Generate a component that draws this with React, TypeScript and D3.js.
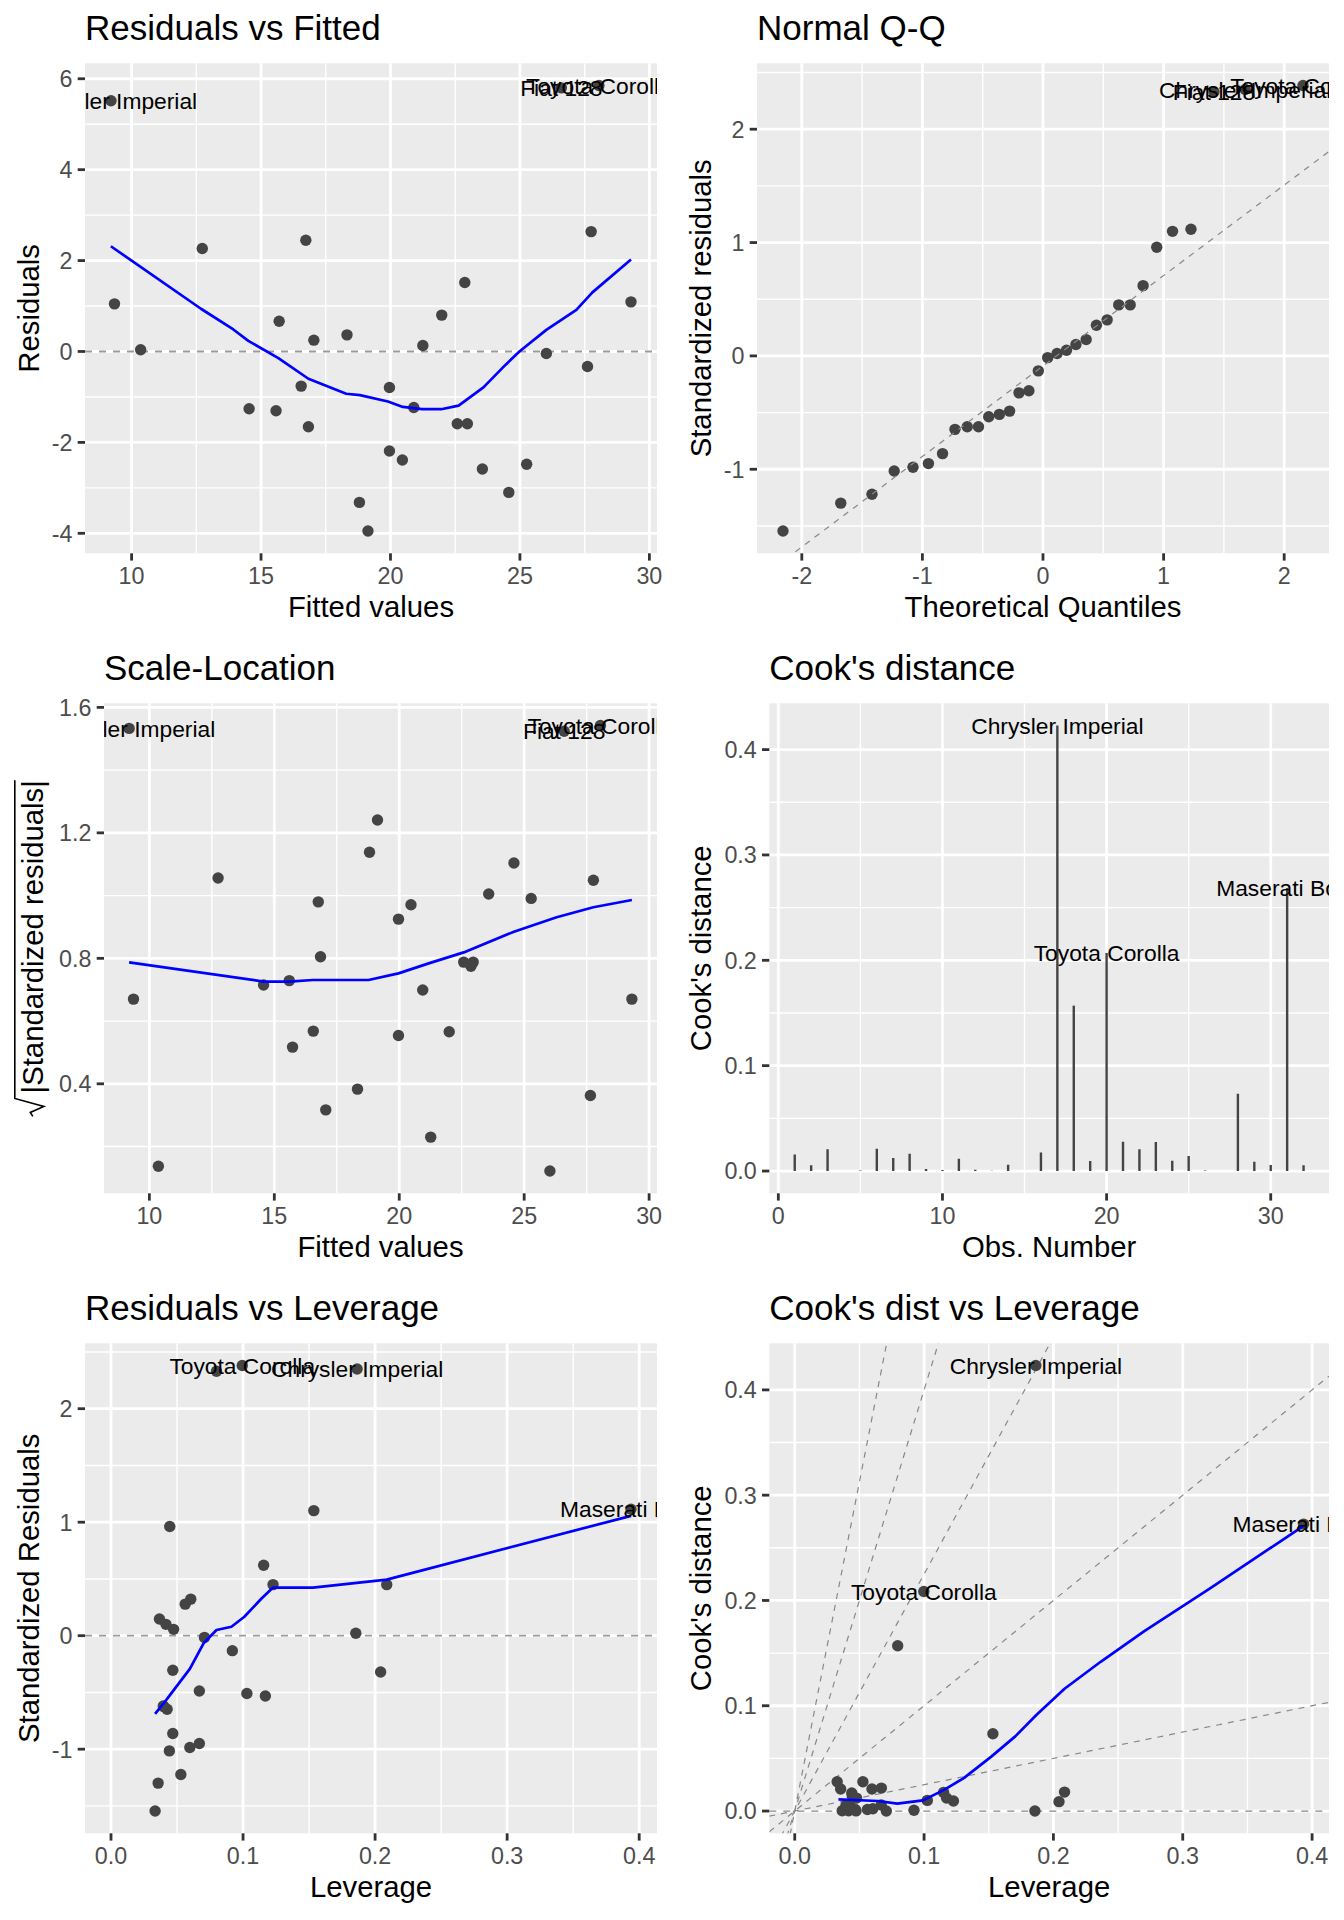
import React from "react";
import * as d3 from "d3";

const FONT = "'Liberation Sans', Arial, Helvetica, sans-serif";

// ---------------- Residuals vs Fitted ----------------
const rvfFitted = [9.205, 9.34, 12.73, 16.73, 15.7, 21.98, 22.87, 27.75, 29.29, 26.6, 28.05, 10.35, 17.04, 18.32, 21.25, 26.02, 27.61, 16.55, 19.96, 14.54, 15.58, 16.83, 20.9, 22.58, 22.97, 19.96, 20.46, 23.55, 25.26, 24.57, 18.8, 19.13];
const rvfResid = [5.516, 1.048, 2.264, 2.447, 0.665, 0.8, 1.516, 2.637, 1.092, 5.8, 5.85, 0.037, 0.249, 0.366, 0.132, -0.044, -0.33, -0.762, -0.791, -1.26, -1.304, -1.656, -1.231, -1.59, -1.59, -2.19, -2.388, -2.586, -2.48, -3.1, -3.32, -3.95];
const rvfLabelIdx = [0, 9, 10];
const rvfLabelNames = ["Chrysler Imperial", "Fiat 128", "Toyota Corolla"];
const rvfSmoothX = [9.2, 12.68, 13.93, 14.51, 15.67, 16.83, 18.29, 18.82, 19.9, 20.48, 21.22, 21.96, 22.63, 23.59, 24.45, 24.98, 26.02, 27.18, 27.8, 29.29];
const rvfSmoothY = [2.315, 0.94, 0.484, 0.234, -0.147, -0.6, -0.93, -0.96, -1.1, -1.22, -1.27, -1.27, -1.19, -0.79, -0.29, 0, 0.476, 0.916, 1.3, 2.022];
const fittedTicks = [10, 15, 20, 25, 30];
const fittedTickLabels = ["10", "15", "20", "25", "30"];
const fittedMinor = [7.5, 12.5, 17.5, 22.5, 27.5, 32.5];
const residTicks = [-4, -2, 0, 2, 4, 6];
const residTickLabels = ["-4", "-2", "0", "2", "4", "6"];
const residMinor = [-5, -3, -1, 1, 3, 5, 7];

// ---------------- Normal Q-Q ----------------
const qqTheo = [-2.156, -1.677, -1.418, -1.234, -1.078, -0.95, -0.833, -0.73, -0.628, -0.535, -0.45, -0.362, -0.277, -0.199, -0.117, -0.039, 0.039, 0.117, 0.195, 0.273, 0.358, 0.443, 0.532, 0.628, 0.723, 0.83, 0.943, 1.074, 1.227, 1.418, 1.677, 2.156];
const qqStd = [-1.545, -1.299, -1.22, -1.015, -0.982, -0.95, -0.862, -0.648, -0.625, -0.625, -0.537, -0.516, -0.487, -0.326, -0.308, -0.132, -0.015, 0.021, 0.05, 0.1, 0.144, 0.27, 0.318, 0.45, 0.45, 0.62, 0.959, 1.099, 1.117, 2.33, 2.35, 2.385];
const qqLabelIdx = [29, 30, 31];
const qqLabelNames = ["Fiat 128", "Chrysler Imperial", "Toyota Corolla"];
const qqLineSlope = 0.798;
const qqLineIntercept = -0.089;
const qqXTicks = [-2, -1, 0, 1, 2];
const qqXTickLabels = ["-2", "-1", "0", "1", "2"];
const qqXMinor = [-2.5, -1.5, -0.5, 0.5, 1.5, 2.5];
const stdTicks = [-1, 0, 1, 2];
const stdTickLabels = ["-1", "0", "1", "2"];
const stdMinor = [-1.5, -0.5, 0.5, 1.5, 2.5];

// ---------------- Scale-Location ----------------
const slFitted = [9.19, 12.75, 16.76, 19.13, 18.81, 20.47, 19.97, 24.59, 23.58, 25.28, 27.77, 16.85, 22.58, 22.96, 22.87, 26.6, 28.05, 9.365, 14.57, 15.6, 20.94, 29.31, 16.56, 15.73, 19.97, 22.0, 18.33, 17.06, 27.65, 21.26, 10.36, 26.03];
const slValue = [1.533, 1.056, 0.98, 1.241, 1.138, 0.971, 0.925, 1.104, 1.005, 0.991, 1.049, 0.805, 0.788, 0.788, 0.775, 1.524, 1.542, 0.67, 0.715, 0.729, 0.699, 0.67, 0.568, 0.517, 0.554, 0.566, 0.383, 0.317, 0.363, 0.23, 0.137, 0.122];
const slLabelIdx = [0, 15, 16];
const slLabelNames = ["Chrysler Imperial", "Fiat 128", "Toyota Corolla"];
const slSmoothX = [9.19, 14.57, 15.6, 16.54, 18.77, 19.97, 21.18, 22.58, 24.59, 26.3, 27.77, 29.31];
const slSmoothY = [0.787, 0.726, 0.726, 0.731, 0.731, 0.752, 0.784, 0.819, 0.885, 0.931, 0.963, 0.986];
const slTicks = [0.4, 0.8, 1.2, 1.6];
const slTickLabels = ["0.4", "0.8", "1.2", "1.6"];
const slMinor = [0.2, 0.6, 1.0, 1.4];

// ---------------- Cook's distance ----------------
const cookObs = [1, 2, 3, 4, 5, 6, 7, 8, 9, 10, 11, 12, 13, 14, 15, 16, 17, 18, 19, 20, 21, 22, 23, 24, 25, 26, 27, 28, 29, 30, 31, 32];
const cookD = [0.0158, 0.0054, 0.0206, 0.0001, 0.0005, 0.0212, 0.0123, 0.0165, 0.0019, 0.0009, 0.0117, 0.0013, 0.0003, 0.006, 0.0001, 0.0177, 0.4228, 0.157, 0.0095, 0.207, 0.0278, 0.0206, 0.0275, 0.0098, 0.0142, 0.0006, 0.0001, 0.0734, 0.0089, 0.0057, 0.2687, 0.0054];
const cookLabelIdx = [16, 19, 30];
const cookLabelNames = ["Chrysler Imperial", "Toyota Corolla", "Maserati Bora"];
const obsTicks = [0, 10, 20, 30];
const obsTickLabels = ["0", "10", "20", "30"];
const obsMinor = [5, 15, 25];
const cookTicks = [0, 0.1, 0.2, 0.3, 0.4];
const cookTickLabels = ["0.0", "0.1", "0.2", "0.3", "0.4"];
const cookMinor = [0.05, 0.15, 0.25, 0.35];

// ---------------- Residuals vs Leverage ----------------
const rvlLev = [0.0799, 0.0994, 0.1864, 0.3938, 0.0445, 0.1536, 0.1156, 0.1227, 0.2088, 0.0604, 0.0562, 0.0367, 0.0416, 0.0474, 0.0708, 0.1854, 0.0919, 0.2042, 0.0468, 0.0669, 0.1029, 0.1169, 0.0396, 0.0425, 0.04, 0.0468, 0.0442, 0.0597, 0.0669, 0.0529, 0.0357, 0.0334];
const rvlStd = [2.33, 2.38, 2.35, 1.114, 0.962, 1.102, 0.62, 0.45, 0.45, 0.322, 0.278, 0.147, 0.1, 0.056, -0.015, 0.021, -0.132, -0.32, -0.305, -0.487, -0.51, -0.531, -0.619, -0.648, -0.625, -0.862, -1.015, -0.985, -0.95, -1.223, -1.299, -1.545];
const rvlLabelIdx = [1, 2, 3];
const rvlLabelNames = ["Toyota Corolla", "Chrysler Imperial", "Maserati Bora"];
const rvlSmoothX = [0.0334, 0.0419, 0.0597, 0.0701, 0.0799, 0.0912, 0.101, 0.114, 0.1227, 0.153, 0.2088, 0.3938];
const rvlSmoothY = [-0.689, -0.566, -0.293, -0.067, 0.05, 0.079, 0.167, 0.328, 0.424, 0.424, 0.494, 1.056];
const levTicks = [0, 0.1, 0.2, 0.3, 0.4];
const levTickLabels = ["0.0", "0.1", "0.2", "0.3", "0.4"];
const levMinor = [0.05, 0.15, 0.25, 0.35];

// ---------------- Cook's dist vs Leverage ----------------
const cvlLev = [0.1864, 0.0998, 0.3934, 0.0796, 0.1532, 0.0328, 0.0355, 0.0527, 0.0441, 0.0478, 0.0597, 0.067, 0.1151, 0.1174, 0.1227, 0.1025, 0.2086, 0.2043, 0.1857, 0.0922, 0.0445, 0.0604, 0.0562, 0.0367, 0.0416, 0.0474, 0.0708, 0.0468, 0.0669, 0.0396, 0.0425, 0.04];
const cvlCook = [0.4231, 0.2085, 0.2725, 0.157, 0.0734, 0.0278, 0.0209, 0.0278, 0.0171, 0.0123, 0.0209, 0.0218, 0.0177, 0.0123, 0.0095, 0.0101, 0.018, 0.0089, 0.0, 0.0008, 0.0143, 0.0022, 0.0015, 0.0003, 0.0002, 0.0001, 0.0, 0.0015, 0.0057, 0.0053, 0.0062, 0.0054];
const cvlLabelIdx = [0, 1, 2];
const cvlLabelNames = ["Chrysler Imperial", "Toyota Corolla", "Maserati Bora"];
const cvlSmoothX = [0.0338, 0.0643, 0.0793, 0.0992, 0.1158, 0.1307, 0.1522, 0.1705, 0.187, 0.2086, 0.2368, 0.27, 0.3214, 0.3934];
const cvlSmoothY = [0.0111, 0.0095, 0.007, 0.0101, 0.0203, 0.0313, 0.0519, 0.0709, 0.0915, 0.1161, 0.142, 0.1706, 0.2117, 0.2709];
const cvlContourSlopes = [0.25, 1, 2.25, 4, 6.25];

// ---------------- helpers ----------------
type Sc = d3.ScaleLinear<number, number>;

function expand(ext: [number, number], m = 0.05): [number, number] {
  const d = (ext[1] - ext[0]) * m;
  return [ext[0] - d, ext[1] + d];
}
function ext(a: number[]): [number, number] {
  return d3.extent(a) as [number, number];
}

const PT_R = 5.7;
const PT_FILL = "#444444";
const LABEL_FS = 22.8;
const AD_COLOUR = "#888888";

function Points({ xs, ys, x, y }: { xs: number[]; ys: number[]; x: Sc; y: Sc }) {
  return (
    <g>
      {xs.map((v, i) => (
        <circle key={i} cx={x(v)} cy={y(ys[i])} r={PT_R} fill={PT_FILL} />
      ))}
    </g>
  );
}

function Labels({ xs, ys, idx, names, x, y }: { xs: number[]; ys: number[]; idx: number[]; names: string[]; x: Sc; y: Sc }) {
  return (
    <g>
      {idx.map((k, i) => (
        <text key={i} x={x(xs[k])} y={y(ys[k])} dy="0.36em" textAnchor="middle" fontSize={LABEL_FS} fill="#000">
          {names[i]}
        </text>
      ))}
    </g>
  );
}

function Smooth({ xs, ys, x, y }: { xs: number[]; ys: number[]; x: Sc; y: Sc }) {
  const line = d3
    .line<number>()
    .x((v) => x(v))
    .y((_, i) => y(ys[i]));
  return <path d={line(xs) || ""} fill="none" stroke="#0000FF" strokeWidth={2.7} strokeLinejoin="round" />;
}

function HLine({ v, x, y, width = 1.8, colour = "#9A9A9A" }: { v: number; x: Sc; y: Sc; width?: number; colour?: string }) {
  const [a, b] = x.range();
  return <line x1={a} x2={b} y1={y(v)} y2={y(v)} stroke={colour} strokeWidth={width} strokeDasharray="7,7" />;
}

function ABLine({ slope, intercept, x, y }: { slope: number; intercept: number; x: Sc; y: Sc }) {
  const [d0, d1] = x.domain();
  return (
    <line
      x1={x(d0)}
      x2={x(d1)}
      y1={y(intercept + slope * d0)}
      y2={y(intercept + slope * d1)}
      stroke={AD_COLOUR}
      strokeWidth={1.2}
      strokeDasharray="6,6"
    />
  );
}

type FrameProps = {
  id: string;
  cx: number;
  cy: number;
  left: number;
  xDomain: [number, number];
  yDomain: [number, number];
  xTicks: number[];
  xTickLabels: string[];
  xMinor: number[];
  yTicks: number[];
  yTickLabels: string[];
  yMinor: number[];
  title: string;
  xTitle: string;
  yTitle?: string;
  yTitleNode?: (cy: number) => React.ReactNode;
  render: (x: Sc, y: Sc) => React.ReactNode;
};

const PANEL_TOP = 63.3;
const PANEL_BOTTOM = 553.3;
const PANEL_RIGHT = 657;

function Frame(p: FrameProps) {
  const l = p.cx + p.left;
  const r = p.cx + PANEL_RIGHT;
  const t = p.cy + PANEL_TOP;
  const b = p.cy + PANEL_BOTTOM;
  const x = d3.scaleLinear().domain(p.xDomain).range([l, r]);
  const y = d3.scaleLinear().domain(p.yDomain).range([b, t]);
  const inX = (v: number) => v >= p.xDomain[0] && v <= p.xDomain[1];
  const inY = (v: number) => v >= p.yDomain[0] && v <= p.yDomain[1];
  const midY = (t + b) / 2;
  return (
    <g>
      <rect x={l} y={t} width={r - l} height={b - t} fill="#EBEBEB" />
      {p.xMinor.filter(inX).map((v, i) => (
        <line key={"xm" + i} x1={x(v)} x2={x(v)} y1={t} y2={b} stroke="#FFFFFF" strokeWidth={1.4} />
      ))}
      {p.yMinor.filter(inY).map((v, i) => (
        <line key={"ym" + i} x1={l} x2={r} y1={y(v)} y2={y(v)} stroke="#FFFFFF" strokeWidth={1.4} />
      ))}
      {p.xTicks.map((v, i) => (
        <line key={"xg" + i} x1={x(v)} x2={x(v)} y1={t} y2={b} stroke="#FFFFFF" strokeWidth={2.8} />
      ))}
      {p.yTicks.map((v, i) => (
        <line key={"yg" + i} x1={l} x2={r} y1={y(v)} y2={y(v)} stroke="#FFFFFF" strokeWidth={2.8} />
      ))}
      <clipPath id={p.id}>
        <rect x={l} y={t} width={r - l} height={b - t} />
      </clipPath>
      <g clipPath={`url(#${p.id})`}>{p.render(x, y)}</g>
      {p.yTicks.map((v, i) => (
        <g key={"yt" + i}>
          <line x1={l - 7.3} x2={l} y1={y(v)} y2={y(v)} stroke="#333333" strokeWidth={2.8} />
          <text x={l - 12.5} y={y(v)} dy="0.36em" textAnchor="end" fontSize={23.3} fill="#4D4D4D">
            {p.yTickLabels[i]}
          </text>
        </g>
      ))}
      {p.xTicks.map((v, i) => (
        <g key={"xt" + i}>
          <line x1={x(v)} x2={x(v)} y1={b} y2={b + 7.3} stroke="#333333" strokeWidth={2.8} />
          <text x={x(v)} y={b + 30.7} textAnchor="middle" fontSize={23.3} fill="#4D4D4D">
            {p.xTickLabels[i]}
          </text>
        </g>
      ))}
      <text x={l} y={p.cy + 40} fontSize={35} fill="#000">
        {p.title}
      </text>
      <text x={(l + r) / 2} y={p.cy + 617} textAnchor="middle" fontSize={29.3} fill="#000">
        {p.xTitle}
      </text>
      {p.yTitleNode ? (
        p.yTitleNode(midY)
      ) : (
        <text transform={`translate(${p.cx + 38.6},${midY}) rotate(-90)`} textAnchor="middle" fontSize={29.3} fill="#000">
          {p.yTitle}
        </text>
      )}
    </g>
  );
}

function SqrtTitle({ bx, cy }: { bx: number; cy: number }) {
  const ref = React.useRef<SVGTextElement>(null);
  const [len, setLen] = React.useState(296);
  React.useLayoutEffect(() => {
    if (ref.current) setLen(ref.current.getComputedTextLength());
  }, []);
  const rad = 23;
  const total = rad + len;
  const s = -total / 2;
  const tx = s + rad;
  return (
    <g transform={`translate(${bx},${cy}) rotate(-90)`}>
      <path
        d={`M${s},${-10} L${s + 4},${-12.5} L${s + 10},${1} L${s + 18},${-28} L${tx + len},${-28}`}
        fill="none"
        stroke="#000"
        strokeWidth={1.6}
      />
      <text ref={ref} x={tx} y={0} fontSize={29.3} fill="#000">
        |Standardized residuals|
      </text>
    </g>
  );
}

export default function App() {
  return (
    <svg
      width={1344}
      height={1920}
      viewBox="0 0 1344 1920"
      style={{ position: "absolute", left: 0, top: 0, background: "#FFFFFF" }}
      fontFamily={FONT}
    >
      <rect x={0} y={0} width={1344} height={1920} fill="#FFFFFF" />

      <Frame
        id="c1"
        cx={0}
        cy={0}
        left={85}
        xDomain={expand(ext(rvfFitted))}
        yDomain={expand(ext(rvfResid))}
        xTicks={fittedTicks}
        xTickLabels={fittedTickLabels}
        xMinor={fittedMinor}
        yTicks={residTicks}
        yTickLabels={residTickLabels}
        yMinor={residMinor}
        title="Residuals vs Fitted"
        xTitle="Fitted values"
        yTitle="Residuals"
        render={(x, y) => (
          <g>
            <HLine v={0} x={x} y={y} />
            <Points xs={rvfFitted} ys={rvfResid} x={x} y={y} />
            <Smooth xs={rvfSmoothX} ys={rvfSmoothY} x={x} y={y} />
            <Labels xs={rvfFitted} ys={rvfResid} idx={rvfLabelIdx} names={rvfLabelNames} x={x} y={y} />
          </g>
        )}
      />

      <Frame
        id="c2"
        cx={672}
        cy={0}
        left={85}
        xDomain={expand(ext(qqTheo))}
        yDomain={expand(ext(qqStd))}
        xTicks={qqXTicks}
        xTickLabels={qqXTickLabels}
        xMinor={qqXMinor}
        yTicks={stdTicks}
        yTickLabels={stdTickLabels}
        yMinor={stdMinor}
        title="Normal Q-Q"
        xTitle="Theoretical Quantiles"
        yTitle="Standardized residuals"
        render={(x, y) => (
          <g>
            <Points xs={qqTheo} ys={qqStd} x={x} y={y} />
            <ABLine slope={qqLineSlope} intercept={qqLineIntercept} x={x} y={y} />
            <Labels xs={qqTheo} ys={qqStd} idx={qqLabelIdx} names={qqLabelNames} x={x} y={y} />
          </g>
        )}
      />

      <Frame
        id="c3"
        cx={0}
        cy={640}
        left={104}
        xDomain={expand(ext(slFitted))}
        yDomain={expand(ext(slValue))}
        xTicks={fittedTicks}
        xTickLabels={fittedTickLabels}
        xMinor={fittedMinor}
        yTicks={slTicks}
        yTickLabels={slTickLabels}
        yMinor={slMinor}
        title="Scale-Location"
        xTitle="Fitted values"
        yTitleNode={(midY) => <SqrtTitle bx={42.8} cy={midY} />}
        render={(x, y) => (
          <g>
            <Points xs={slFitted} ys={slValue} x={x} y={y} />
            <Smooth xs={slSmoothX} ys={slSmoothY} x={x} y={y} />
            <Labels xs={slFitted} ys={slValue} idx={slLabelIdx} names={slLabelNames} x={x} y={y} />
          </g>
        )}
      />

      <Frame
        id="c4"
        cx={672}
        cy={640}
        left={97.3}
        xDomain={expand(ext(cookObs))}
        yDomain={expand([0, d3.max(cookD) as number])}
        xTicks={obsTicks}
        xTickLabels={obsTickLabels}
        xMinor={obsMinor}
        yTicks={cookTicks}
        yTickLabels={cookTickLabels}
        yMinor={cookMinor}
        title="Cook's distance"
        xTitle="Obs. Number"
        yTitle="Cook's distance"
        render={(x, y) => (
          <g>
            {cookObs.map((o, i) => (
              <line key={i} x1={x(o)} x2={x(o)} y1={y(0)} y2={y(cookD[i])} stroke={PT_FILL} strokeWidth={2.4} />
            ))}
            <Labels xs={cookObs} ys={cookD} idx={cookLabelIdx} names={cookLabelNames} x={x} y={y} />
          </g>
        )}
      />

      <Frame
        id="c5"
        cx={0}
        cy={1280}
        left={85}
        xDomain={expand([0, d3.max(rvlLev) as number])}
        yDomain={expand(ext(rvlStd))}
        xTicks={levTicks}
        xTickLabels={levTickLabels}
        xMinor={levMinor}
        yTicks={stdTicks}
        yTickLabels={stdTickLabels}
        yMinor={stdMinor}
        title="Residuals vs Leverage"
        xTitle="Leverage"
        yTitle="Standardized Residuals"
        render={(x, y) => (
          <g>
            <HLine v={0} x={x} y={y} />
            <Points xs={rvlLev} ys={rvlStd} x={x} y={y} />
            <Smooth xs={rvlSmoothX} ys={rvlSmoothY} x={x} y={y} />
            <Labels xs={rvlLev} ys={rvlStd} idx={rvlLabelIdx} names={rvlLabelNames} x={x} y={y} />
          </g>
        )}
      />

      <Frame
        id="c6"
        cx={672}
        cy={1280}
        left={97.3}
        xDomain={expand([0, d3.max(cvlLev) as number])}
        yDomain={expand([0, d3.max(cvlCook) as number])}
        xTicks={levTicks}
        xTickLabels={levTickLabels}
        xMinor={levMinor}
        yTicks={cookTicks}
        yTickLabels={cookTickLabels}
        yMinor={cookMinor}
        title="Cook's dist vs Leverage"
        xTitle="Leverage"
        yTitle="Cook's distance"
        render={(x, y) => (
          <g>
            {cvlContourSlopes.map((s, i) => (
              <ABLine key={i} slope={s} intercept={0} x={x} y={y} />
            ))}
            <HLine v={0} x={x} y={y} width={1.2} colour={AD_COLOUR} />
            <Points xs={cvlLev} ys={cvlCook} x={x} y={y} />
            <Smooth xs={cvlSmoothX} ys={cvlSmoothY} x={x} y={y} />
            <Labels xs={cvlLev} ys={cvlCook} idx={cvlLabelIdx} names={cvlLabelNames} x={x} y={y} />
          </g>
        )}
      />
    </svg>
  );
}
